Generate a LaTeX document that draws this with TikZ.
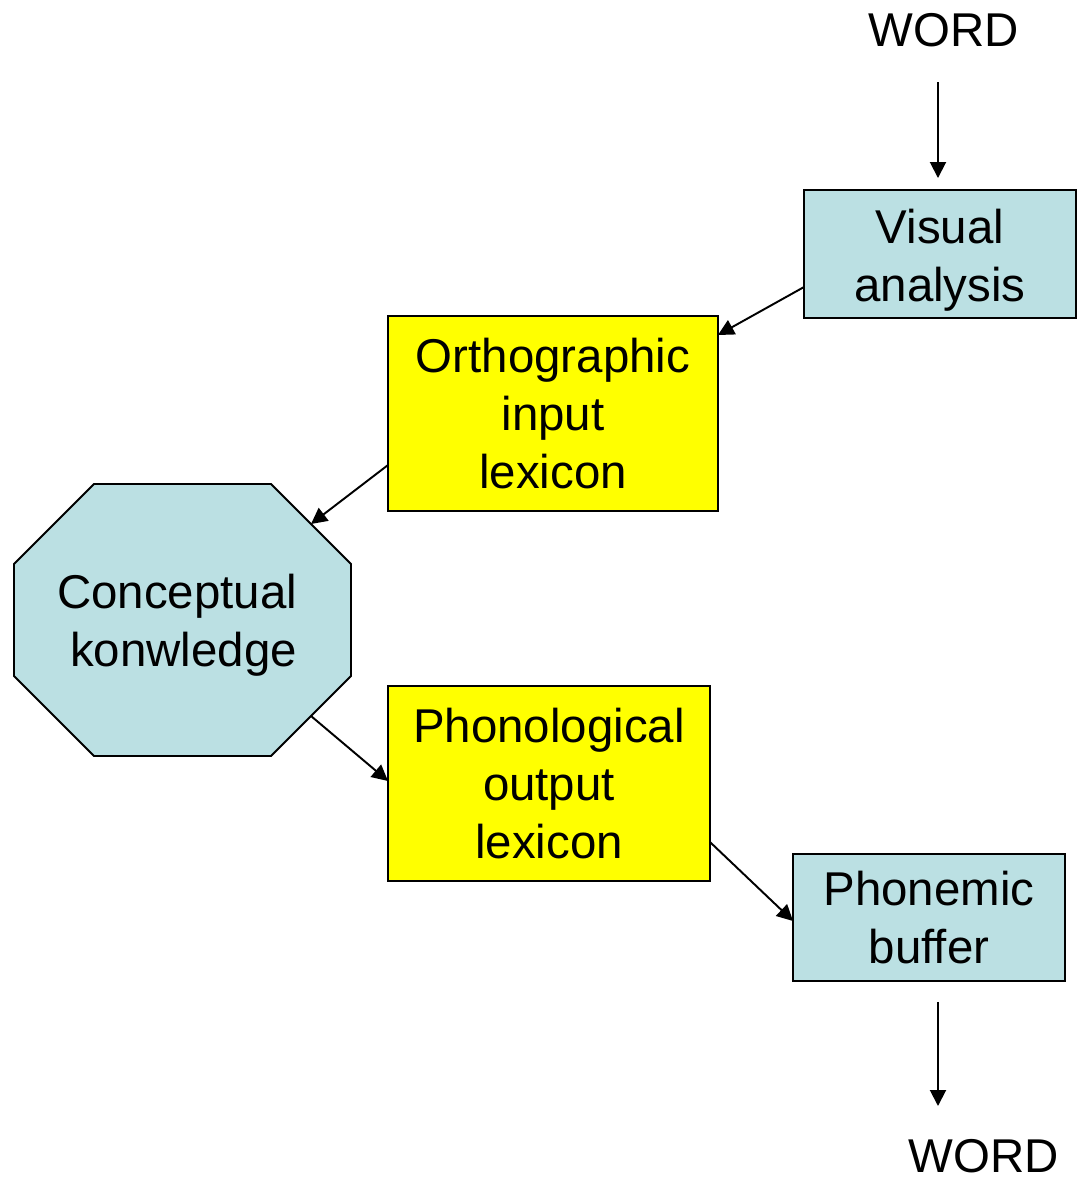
\documentclass[tikz,border=0pt]{standalone}
\usepackage{fontspec}
\setmainfont{Liberation Sans}
\usetikzlibrary{arrows.meta,calc}
\definecolor{paleblue}{HTML}{BBE0E3}
\definecolor{lexyellow}{HTML}{FFFF00}
\tikzset{
  big/.style={font=\fontsize{27}{33}\selectfont},
  box/.style={draw, line width=1.4pt, inner sep=0pt, outer sep=0pt, align=center, big},
  blue box/.style={box, fill=paleblue},
  lex box/.style={box, fill=lexyellow},
  arr/.style={-{Triangle[length=0.32cm,width=0.32cm]}, line width=1.1pt}
}
\begin{document}
\begin{tikzpicture}[x=0.02cm,y=-0.02cm]
\useasboundingbox (0,0) rectangle (1082,1178);
% The word that goes in and the word that comes out
\node[big] (wordin) at (944,30) {WORD};
\node[big, inner sep=0pt] (wordout) at (984,1156) {WORD};
\coordinate (in) at (938,82);
\coordinate (out) at (938,1106);
% Boxes
\node[blue box, minimum width=5.44cm, minimum height=2.56cm] (visual) at (940,254) {\rule{0pt}{0.94cm}Visual\\analysis};
\node[lex box, minimum width=6.6cm, minimum height=3.9cm] (ortho) at (553,413.5) {Orthographic\\input\\lexicon};
\node[lex box, minimum width=6.44cm, minimum height=3.9cm] (phono) at (549,783.5) {Phonological\\output\\lexicon};
\node[blue box, minimum width=5.44cm, minimum height=2.54cm] (phonemic) at (929,917.5) {Phonemic\\buffer};
% The octagon, corners o1..o8 clockwise from the top left
\foreach \x/\y [count=\i] in {94/484,271/484,351/564,351/676,271/756,94/756,14/676,14/564}
  \coordinate (o\i) at (\x,\y);
\draw[fill=paleblue, line width=1.1pt] (o1) -- (o2) -- (o3) -- (o4) -- (o5) -- (o6) -- (o7) -- (o8) -- cycle;
\node[big, align=right] (concept) at (177,625) {Conceptual\\konwledge};
% Arrows
\draw[arr, shorten >=0.24cm] (in) -- (in |- visual.north);
\draw[arr] (visual.west |- 0,287) -- (ortho.east |- 0,335);
\draw[arr] (ortho.west |- 0,465) -- ($(o2)!0.5!(o3)$);
\draw[arr] ($(o4)!0.5!(o5)$) -- (phono.west |- 0,781);
\draw[arr] (phono.east |- 0,842) -- (phonemic.west |- 0,921);
\draw[arr, shorten <=0.42cm] (phonemic.south -| out) -- (out);
\end{tikzpicture}
\end{document}
